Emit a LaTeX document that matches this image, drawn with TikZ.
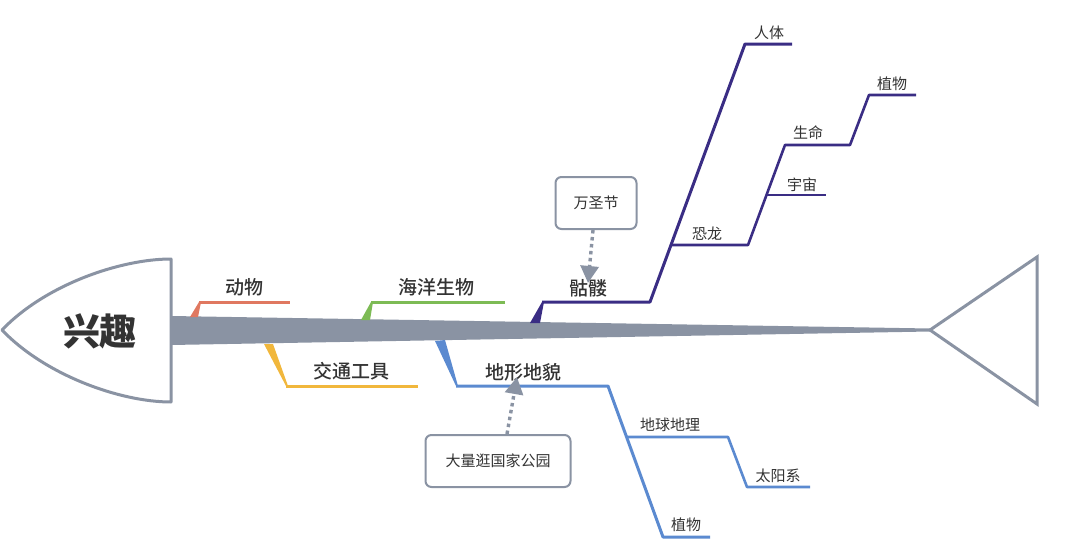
\documentclass[tikz,border=0pt]{standalone}
\usepackage{fontspec}
\setmainfont{Noto Sans CJK SC}
\newfontfamily\medfont{Noto Sans CJK SC Medium}
\usepackage{xcolor}
\usetikzlibrary{positioning,arrows.meta,calc}

\definecolor{bone}{HTML}{8A93A3}
\definecolor{cred}{HTML}{E07860}
\definecolor{cgreen}{HTML}{7DBB55}
\definecolor{cpurple}{HTML}{3A2D84}
\definecolor{cyellow}{HTML}{F1B73C}
\definecolor{cblue}{HTML}{5B8AD0}
\definecolor{txt}{HTML}{333333}

\tikzset{
    mainlbl/.style={font=\medfont\fontsize{19}{19}\selectfont, text=txt, inner sep=0pt},
    sublbl/.style={font=\fontsize{15}{15}\selectfont, text=txt, inner sep=0pt},
    mainline/.style={line width=3pt, line join=round},
    subline/.style={line width=2.6pt, line join=round},
    callbox/.style={draw=bone, line width=2pt, rounded corners=6pt, fill=white,
        minimum width=81pt, minimum height=52pt,
        font=\fontsize{15}{15}\selectfont, text=txt},
    callarrow/.style={bone, line width=3.4pt, dash pattern=on 3.5pt off 3.5pt,
        -{Triangle[length=17pt,width=18pt]}},
}

\begin{document}
\begin{tikzpicture}[x=1pt, y=-1pt]
    \useasboundingbox (0,0) rectangle (1080,554);

    % 鱼头
    \draw[bone, line width=3pt, fill=white, line join=round]
        (171,259) .. controls (120,259) and (45,285) .. (2,330)
        .. controls (45,375) and (120,402) .. (171,402) -- cycle;
    \node[font=\bfseries\fontsize{37}{37}\selectfont, text=txt] (head) at (100,331) {兴趣};

    % 鱼骨
    \fill[bone] (171,316) -- (930,328.5) -- (930,331.5) -- (171,345) -- cycle;
    \draw[bone, line width=3pt, line join=miter] (930,330) -- (1037,257) -- (1037,404) -- cycle;

    % 上侧分支
    \coordinate (a0) at (199,302);
    \coordinate (a1) at (290,302);
    \fill[cred] (190,317) -- (a0) -- (201,302) -- (198,317) -- cycle;
    \draw[cred, mainline] (a0) -- (a1);
    \node[mainlbl] (dongwu) at (244,287) {动物};

    \coordinate (b0) at (371,302);
    \coordinate (b1) at (505,302);
    \fill[cgreen] (361,320) -- (b0) -- (373,302) -- (370,320) -- cycle;
    \draw[cgreen, mainline] (b0) -- (b1);
    \node[mainlbl] (haiyang) at (436,287) {海洋生物};

    \coordinate (c0) at (542,302);
    \coordinate (c1) at (650,302);
    \coordinate (c2) at (672,245);
    \coordinate (c3) at (745,44);
    \coordinate (c4) at (792,44);
    \coordinate (c5) at (748,245);
    \coordinate (c6) at (767,195);
    \coordinate (c7) at (826,195);
    \coordinate (c8) at (785,145);
    \coordinate (c9) at (850,145);
    \coordinate (c10) at (869,95);
    \coordinate (c11) at (916,95);
    \fill[cpurple] (530,323) -- (c0) -- (544,302) -- (540,323) -- cycle;
    \draw[cpurple, mainline] (c0) -- (c1) -- (c3) -- (c4);
    \draw[cpurple, subline] (c2) -- (c5) -- (c8) -- (c9) -- (c10) -- (c11);
    \draw[cpurple, subline] (c6) -- (c7);
    \node[mainlbl] (kulou) at (588,288) {骷髅};
    \node[sublbl] (renti) at (769,33) {人体};
    \node[sublbl] (konglong) at (707,234) {恐龙};
    \node[sublbl] (yuzhou) at (802,185) {宇宙};
    \node[sublbl] (shengming) at (808,133) {生命};
    \node[sublbl] (zhiwu1) at (892,84) {植物};

    % 下侧分支
    \coordinate (d0) at (286,386);
    \coordinate (d1) at (418,386);
    \fill[cyellow] (264,344) -- (d0) -- (288,386) -- (273,344) -- cycle;
    \draw[cyellow, mainline] (d0) -- (d1);
    \node[mainlbl] (jiaotong) at (351,371) {交通工具};

    \coordinate (e0) at (456,386);
    \coordinate (e1) at (608,386);
    \coordinate (e2) at (627,437);
    \coordinate (e3) at (728,437);
    \coordinate (e4) at (747,487);
    \coordinate (e5) at (810,487);
    \coordinate (e6) at (663,537);
    \coordinate (e7) at (710,537);
    \fill[cblue] (435,341) -- (e0) -- (458,386) -- (445,340) -- cycle;
    \draw[cblue, mainline] (e0) -- (e1) -- (e6) -- (e7);
    \draw[cblue, subline] (e2) -- (e3) -- (e4) -- (e5);
    \node[mainlbl] (dixing) at (523,372) {地形地貌};
    \node[sublbl] (diqiu) at (670,425) {地球地理};
    \node[sublbl] (taiyang) at (778,476) {太阳系};
    \node[sublbl] (zhiwu2) at (686,525) {植物};

    % 注释
    \node[callbox] (wsj) at (596,203) {万圣节};
    \node[callbox, minimum width=145pt] (park) at (498,461) {大量逛国家公园};
    \draw[callarrow] ([xshift=-3pt]wsj.south) -- ([yshift=-4pt]kulou.north);
    \draw[callarrow] ([xshift=9pt]park.north) -- ([xshift=-6pt, yshift=4pt]dixing.south);
\end{tikzpicture}
\end{document}
